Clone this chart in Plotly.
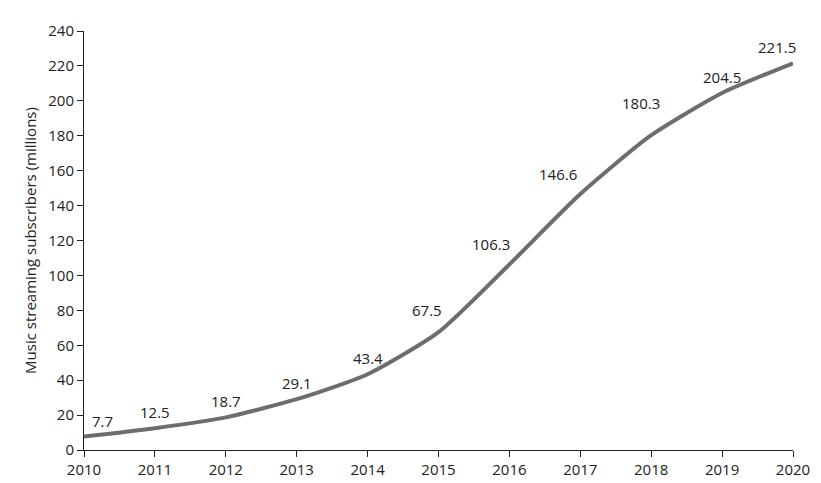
import plotly.graph_objects as go

years = [2010, 2011, 2012, 2013, 2014, 2015, 2016, 2017, 2018, 2019, 2020]
subscribers = [7.7, 12.5, 18.7, 29.1, 43.4, 67.5, 106.3, 146.6, 180.3, 204.5, 221.5]
labels = [f"{v:.1f}" for v in subscribers]
xshifts = [18, 0, 0, 0, 0, -12, -18, -22, -10, 0, -16]
yshifts = [16, 16, 16, 16, 16, 22, 20, 20, 32, 16, 16]

fig = go.Figure(go.Scatter(
    x=years, y=subscribers, mode="lines",
    line=dict(color="#6d6d6d", width=4, shape="spline", smoothing=0.6),
))
for x, y, t, xs, ys in zip(years, subscribers, labels, xshifts, yshifts):
    fig.add_annotation(x=x, y=y, text=t, showarrow=False, xshift=xs, yshift=ys,
                       font=dict(size=15, color="#222"))
fig.update_layout(
    width=821, height=483, margin=dict(l=76, r=36, t=17, b=38),
    plot_bgcolor="white", paper_bgcolor="white", showlegend=False,
    font=dict(family="Open Sans, sans-serif", size=14, color="#222"),
)
fig.update_xaxes(range=[2010, 2020], tickvals=years, showline=True, linecolor="#222",
                 ticks="outside", ticklen=6, tickcolor="#222", showgrid=False, zeroline=False,
                 tickfont=dict(size=15))
fig.update_yaxes(range=[0, 240], dtick=20, showline=True, linecolor="#222",
                 ticks="outside", ticklen=6, tickcolor="#222", showgrid=False, zeroline=False,
                 title=dict(text="Music streaming subscribers (millions)", font=dict(size=15), standoff=8),
                 tickfont=dict(size=15))
fig.write_html("out.html")
